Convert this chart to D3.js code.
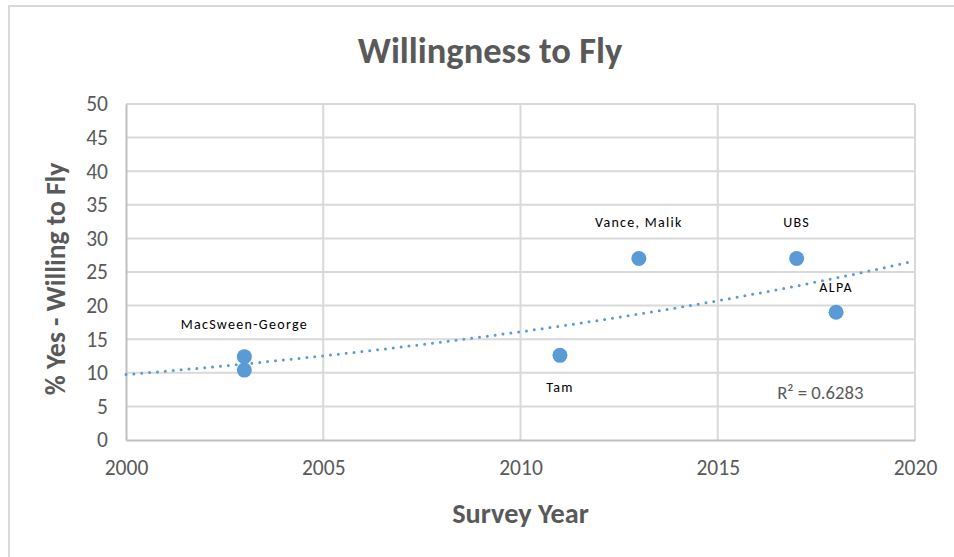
<!DOCTYPE html>
<html><head><meta charset="utf-8">
<script src="https://cdn.jsdelivr.net/npm/d3@7"></script>
<style>
html,body{margin:0;padding:0;background:#fff;}
svg{display:block;font-family:Carlito,Lato,"Open Sans",sans-serif;}
</style></head>
<body><svg id="c" width="954" height="557"></svg>
<script>
// Data
const studies = ["MacSween-George","MacSween-George","Tam","Vance, Malik","UBS","ALPA"];
const years = [2003, 2003, 2011, 2013, 2017, 2018];
const pctYes = [12.4, 10.4, 12.6, 27.0, 27.0, 19.0];
// Data labels: [text, year, value] anchor positions in data units
const labelNames = ["MacSween-George","Tam","Vance, Malik","UBS","ALPA"];
const labelYears = [2003, 2011, 2013, 2017, 2018];
const labelValues = [17.2, 7.8, 32.5, 32.5, 22.8];
const xTicks = [2000, 2005, 2010, 2015, 2020];
const yTicks = [0,5,10,15,20,25,30,35,40,45,50];
const rSquaredText = "R² = 0.6283";

const svg = d3.select("#c");
const W = 954, H = 557;
const m = {left:126, right:954-915, top:104, bottom:557-440};

// Outer border (cropped chart frame)
svg.append("rect").attr("x",9).attr("y",6).attr("width",W+20).attr("height",H+20)
  .attr("fill","#fff").attr("stroke","#d9d9d9").attr("stroke-width",2);

const x = d3.scaleLinear().domain([2000,2020]).range([m.left, W-m.right]);
const y = d3.scaleLinear().domain([0,50]).range([H-m.bottom, m.top]);

// Gridlines
const g = svg.append("g");
g.selectAll("line.h").data(yTicks.filter(d=>d>0)).join("line")
  .attr("x1",x(2000)).attr("x2",x(2020)).attr("y1",d=>y(d)).attr("y2",d=>y(d))
  .attr("stroke","#d9d9d9").attr("stroke-width",2);
g.selectAll("line.v").data(xTicks.filter(d=>d>2000)).join("line")
  .attr("y1",y(0)).attr("y2",y(50)).attr("x1",d=>x(d)).attr("x2",d=>x(d))
  .attr("stroke","#d9d9d9").attr("stroke-width",2);

// Axes
const xAxis = svg.append("g").attr("transform",`translate(0,${y(0)})`)
  .call(d3.axisBottom(x).tickValues(xTicks).tickFormat(d3.format("d")).tickSize(0).tickPadding(20));
const yAxis = svg.append("g").attr("transform",`translate(${x(2000)},0)`)
  .call(d3.axisLeft(y).tickValues(yTicks).tickSize(0).tickPadding(18));
[xAxis,yAxis].forEach(a=>{
  a.select(".domain").attr("stroke","#bfbfbf").attr("stroke-width",2);
  a.selectAll("text").attr("fill","#595959").attr("font-size",21.5)
   .attr("font-family","Carlito,Lato,'Open Sans',sans-serif");
});

// Exponential trendline fit computed from the data
const lx = years.map(v=>v-2000), ly = pctYes.map(v=>Math.log(v));
const mx = d3.mean(lx), my = d3.mean(ly);
const b = d3.sum(lx.map((v,i)=>(v-mx)*(ly[i]-my))) / d3.sum(lx.map(v=>(v-mx)**2));
const a = Math.exp(my - b*mx);
const trendX = d3.range(2000, 2020.01, 0.25);
const line = d3.line().x(d=>x(d)).y(d=>y(a*Math.exp(b*(d-2000))));
svg.append("path").datum(trendX).attr("d",line).attr("fill","none")
  .attr("stroke","#5b9bd5").attr("stroke-width",3).attr("stroke-linecap","round")
  .attr("stroke-dasharray","0 7.9");

// Points
svg.selectAll("circle.pt").data(years.map((d,i)=>({x:d,y:pctYes[i]}))).join("circle")
  .attr("cx",d=>x(d.x)).attr("cy",d=>y(d.y)).attr("r",7.5).attr("fill","#5b9bd5");

// Data labels
svg.selectAll("text.lbl").data(labelNames.map((n,i)=>({n,x:labelYears[i],y:labelValues[i]}))).join("text")
  .attr("x",d=>x(d.x)).attr("y",d=>y(d.y)).attr("dy","0.35em").attr("text-anchor","middle")
  .attr("font-size",14).attr("letter-spacing",1.3).attr("fill","#000").text(d=>d.n);

// R² text
svg.append("text").attr("x",x(2017.6)).attr("y",y(7.1)).attr("dy","0.35em").attr("text-anchor","middle")
  .attr("font-size",18.7).attr("fill","#595959").text(rSquaredText);

// Title
svg.append("text").attr("x",490).attr("y",50).attr("dy","0.35em").attr("text-anchor","middle")
  .attr("font-size",36.5).attr("font-weight","bold").attr("fill","#595959").text("Willingness to Fly");

// Axis titles
svg.append("text").attr("x",(x(2000)+x(2020))/2).attr("y",513).attr("dy","0.35em").attr("text-anchor","middle")
  .attr("font-size",28.3).attr("font-weight","bold").attr("fill","#595959").text("Survey Year");
svg.append("text").attr("transform",`translate(55,${(y(0)+y(50))/2+7}) rotate(-90)`).attr("dy","0.35em")
  .attr("text-anchor","middle").attr("font-size",27.5).attr("font-weight","bold").attr("fill","#595959")
  .text("% Yes - Willing to Fly");
</script></body></html>
